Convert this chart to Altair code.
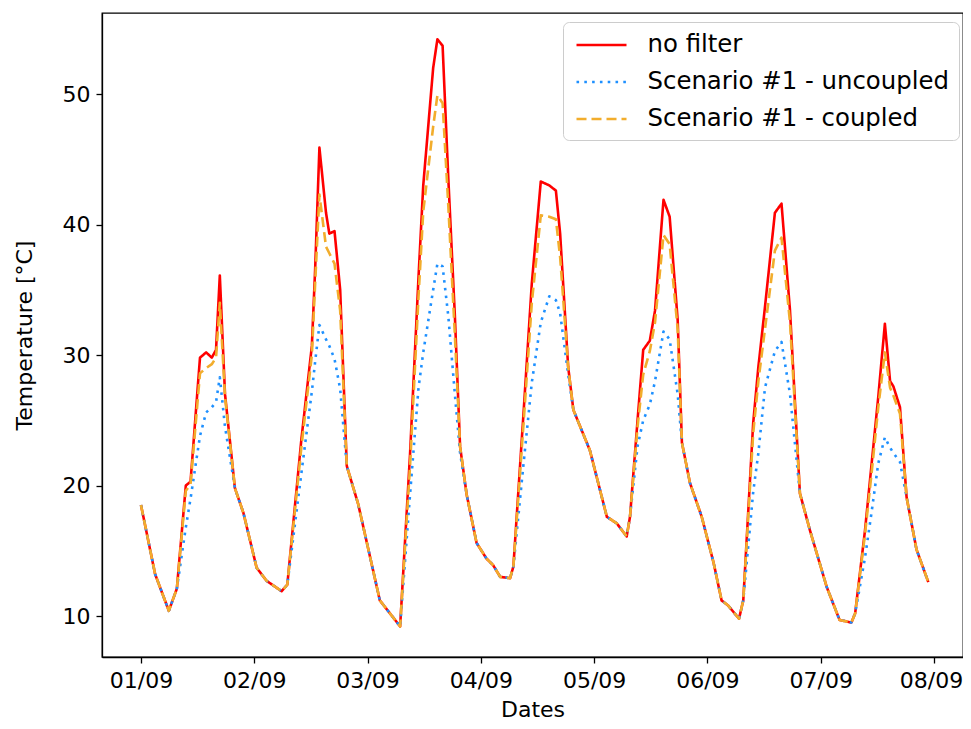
import altair as alt
import pandas as pd

# time in hours from 01/09 00:00
hours = [0.0, 3.0, 5.9, 7.6, 9.5, 10.5, 12.5, 13.8, 15.0, 15.9, 16.7, 17.8, 19.9, 21.7,
         24.5, 26.6, 29.8, 31.0, 34.0, 36.2, 36.9, 37.8, 39.2, 39.9, 41.0, 42.2, 43.6,
         46.0, 50.6, 54.9, 57.0, 58.8, 59.8, 61.9, 62.8, 63.9, 65.1, 66.5, 67.6, 69.0,
         71.1, 73.2, 74.6, 76.1, 78.2, 78.9, 81.0, 82.8, 84.7, 86.5, 87.9, 88.8, 90.5,
         91.6, 95.1, 98.7, 100.8, 102.9, 103.6, 105.2, 106.4, 107.8, 108.9, 110.7, 112.0,
         113.7, 114.6, 116.3, 118.8, 121.3, 123.0, 124.4, 126.7, 127.6, 129.7, 130.8,
         132.2, 134.3, 135.7, 137.5, 139.6, 141.7, 145.3, 148.0, 150.5, 151.3, 153.4,
         154.8, 156.2, 157.6, 158.7, 159.4, 160.8, 162.2, 164.3, 166.8]

no_filter = [18.5, 13.2, 10.4, 12.1, 20.0, 20.3, 29.8, 30.2, 29.8, 30.4, 36.1, 27.0, 19.8, 17.9,
             13.7, 12.7, 11.9, 12.4, 23.6, 30.7, 36.6, 45.9, 40.9, 39.3, 39.5, 35.0, 21.5,
             18.6, 11.2, 9.2, 22.4, 36.0, 43.0, 52.0, 54.2, 53.7, 43.6, 33.0, 23.0, 19.3,
             15.6, 14.4, 13.9, 13.0, 12.9, 13.8, 25.3, 35.5, 43.3, 43.0, 42.6, 39.3, 29.1,
             25.8, 22.7, 17.6, 17.1, 16.1, 17.6, 25.0, 30.4, 31.1, 33.4, 41.9, 40.6,
             32.7, 23.3, 20.2, 17.6, 14.1, 11.2, 10.8, 9.8, 11.2, 24.8, 29.1,
             33.7, 40.9, 41.6, 33.4, 19.4, 16.6, 12.2, 9.7, 9.5, 10.2, 16.6,
             21.7, 26.8, 32.4, 28.0, 27.6, 26.0, 19.1, 15.1, 12.6]

uncoupled = [18.5, 13.2, 10.4, 12.1, 16.8, 19.0, 23.8, 25.6, 26.0, 26.4, 28.3, 24.5, 19.8, 17.9,
             13.7, 12.7, 11.9, 12.4, 21.0, 27.2, 29.5, 32.3, 31.2, 30.7, 29.7, 27.4, 21.5,
             18.6, 11.2, 9.2, 19.3, 27.5, 30.2, 35.0, 37.0, 36.8, 33.0, 27.0, 22.5, 19.3,
             15.6, 14.4, 13.9, 13.0, 12.9, 13.8, 21.5, 27.9, 32.5, 34.5, 34.2, 33.2, 28.5,
             25.8, 22.7, 17.6, 17.1, 16.1, 17.6, 23.0, 25.0, 26.2, 28.0, 31.8, 31.2,
             27.0, 23.3, 20.2, 17.6, 14.1, 11.2, 10.8, 9.8, 11.2, 19.5, 22.5,
             27.5, 30.3, 31.0, 27.0, 19.4, 16.6, 12.2, 9.7, 9.5, 10.2, 14.5,
             18.0, 21.7, 23.7, 22.9, 22.5, 21.8, 19.1, 15.1, 12.6]

coupled = [18.5, 13.2, 10.4, 12.1, 19.6, 20.1, 28.6, 29.0, 29.3, 29.8, 34.0, 26.8, 19.8, 17.9,
           13.7, 12.7, 11.9, 12.4, 23.0, 30.0, 35.5, 42.3, 38.3, 37.8, 37.0, 33.4, 21.5,
           18.6, 11.2, 9.2, 21.5, 34.5, 41.0, 47.5, 49.9, 49.3, 41.5, 31.5, 23.0, 19.3,
           15.6, 14.4, 13.9, 13.0, 12.9, 13.8, 24.5, 34.0, 40.7, 40.6, 40.4, 37.5, 29.1,
           25.8, 22.7, 17.6, 17.1, 16.1, 17.6, 24.5, 28.5, 30.3, 32.5, 39.2, 38.5,
           32.0, 23.3, 20.2, 17.6, 14.1, 11.2, 10.8, 9.8, 11.2, 24.0, 28.0,
           32.0, 38.0, 39.0, 32.5, 19.4, 16.6, 12.2, 9.7, 9.5, 10.2, 16.3,
           21.0, 26.0, 30.2, 27.5, 26.9, 25.5, 19.1, 15.1, 12.6]

series_names = ["no filter", "Scenario #1 - uncoupled", "Scenario #1 - coupled"]
series_colors = ["#ff0000", "#1e90ff", "#f2ad2c"]
series_dashes = [[1, 0], [2.6, 5.2], [10, 5]]

tick_hours = [0, 24, 48, 72, 96, 120, 144, 168]
tick_labels = ["01/09", "02/09", "03/09", "04/09", "05/09", "06/09", "07/09", "08/09"]
y_ticks = [10, 20, 30, 40, 50]

FONT = "DejaVu Sans"
FS = 22
LFS = 24.4

frames = []
for name, vals in zip(series_names, [no_filter, uncoupled, coupled]):
    frames.append(pd.DataFrame({"hours": hours, "temp": vals, "series": name}))
df = pd.concat(frames, ignore_index=True)

label_expr = "[" + ",".join("'" + t + "'" for t in tick_labels) + "][round(datum.value/24)]"

legend = alt.Legend(
    title=None, orient="none", legendX=461, legendY=9,
    symbolType="M-2,0H2", symbolSize=625, symbolStrokeWidth=2.6, symbolOffset=15.5,
    labelFont=FONT, labelFontSize=LFS, labelColor="black", labelOffset=32, labelLimit=500,
    rowPadding=11, padding=9, fillColor="white", strokeColor="#cccccc",
    cornerRadius=6,
)

color_scale = alt.Scale(domain=series_names, range=series_colors)
dash_scale = alt.Scale(domain=series_names, range=series_dashes)

x_enc = alt.X("hours:Q",
              scale=alt.Scale(domain=[-8.26, 174.15], nice=False, zero=False),
              axis=alt.Axis(values=tick_hours, labelExpr=label_expr, title="Dates",
                            grid=False, tickSize=6, labelPadding=7, titlePadding=8,
                            labelOffset={"condition": {"test": "datum.value >= 168", "value": -3},
                                         "value": 0}))
y_enc = alt.Y("temp:Q",
              scale=alt.Scale(domain=[6.86, 56.21], nice=False, zero=False),
              axis=alt.Axis(values=y_ticks, title="Temperature [°C]", grid=False,
                            tickSize=6, labelPadding=6, titlePadding=26))

layers = []
for name in series_names:
    layers.append(
        alt.Chart(df).transform_filter(alt.datum.series == name)
        .mark_line(strokeWidth=2.6, strokeCap="butt", strokeJoin="round")
        .encode(
            x=x_enc, y=y_enc,
            color=alt.Color("series:N", scale=color_scale, legend=legend),
            strokeDash=alt.StrokeDash("series:N", scale=dash_scale, legend=legend),
        )
    )

chart = (
    alt.layer(*layers)
    .properties(width=861, height=644, background="white",
                padding={"left": 94, "top": 5, "right": 0, "bottom": 64},
                autosize=alt.AutoSizeParams(type="none"))
    .configure_view(stroke="black", strokeWidth=1.3)
    .configure_axis(labelFont=FONT, labelFontSize=FS, labelColor="black",
                    titleFont=FONT, titleFontSize=FS, titleFontWeight="normal", titleColor="black",
                    domainColor="black", domainWidth=1.3, tickColor="black", tickWidth=1.3)
)

chart.save("out.html", embed_options={"renderer": "svg", "actions": False})
